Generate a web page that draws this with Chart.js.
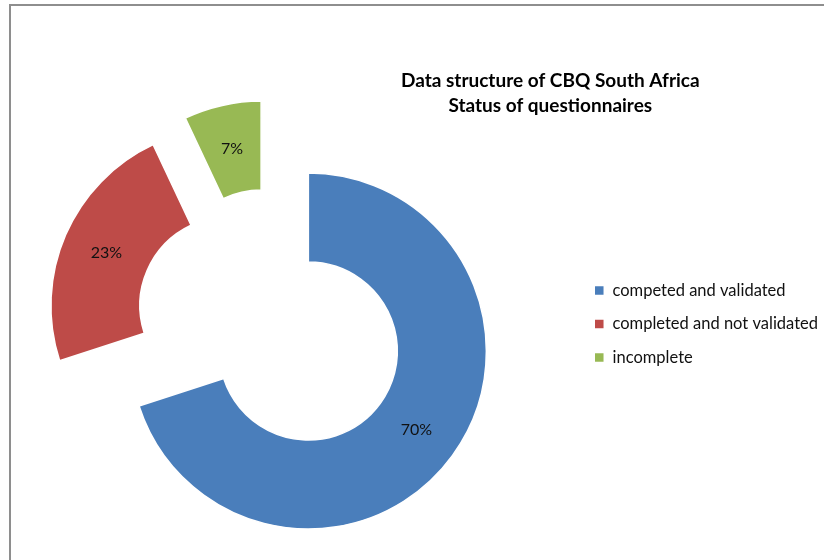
<!DOCTYPE html>
<html>
<head>
<meta charset="utf-8">
<script src="https://cdn.jsdelivr.net/npm/chart.js@4.4.1/dist/chart.umd.min.js"></script>
<style>
    html, body { margin: 0; padding: 0; background: #fff; overflow: hidden; }
    body { width: 824px; height: 560px; position: relative; }
    #frame {
        position: absolute; left: 9px; top: 4px; right: -10px; bottom: -10px;
        border-top: 2px solid #8e8e8e; border-left: 2px solid #8e8e8e;
    }
    /* le canvas déborde un peu des deux côtés pour placer le donut et la légende */
    #wrap { position: absolute; left: -35px; top: 0; width: 863px; height: 560px; }
</style>
</head>
<body>
<div id="frame"></div>
<div id="wrap"><canvas id="pie"></canvas></div>
<script>
// --- DONNÉES ---
const categories = ["competed and validated", "completed and not validated", "incomplete"];
const shares = [70, 23, 7];
const sliceColors = ["#4a7ebb", "#be4b48", "#98b954"];
const titleLines = ["Data structure of CBQ South Africa", "Status of questionnaires"];

const EXPLODE = 46;      // écartement des parts (comme "exploser" dans Excel)
const FONT = "Lato, 'Liberation Sans', sans-serif";

// --- PLUGIN : écarte chaque part le long de sa bissectrice ---
const explodePlugin = {
    id: 'explode',
    afterDatasetUpdate(chart, args) {
        args.meta.data.forEach(arc => {
            const mid = (arc.startAngle + arc.endAngle) / 2;
            arc.x += Math.cos(mid) * EXPLODE;
            arc.y += Math.sin(mid) * EXPLODE;
        });
    }
};

// --- PLUGIN : pourcentages au milieu des parts ---
const percentPlugin = {
    id: 'percentLabels',
    afterDatasetsDraw(chart) {
        const ctx = chart.ctx;
        const meta = chart.getDatasetMeta(0);
        ctx.save();
        ctx.font = "16px " + FONT;
        ctx.fillStyle = "#111";
        ctx.textAlign = "center";
        ctx.textBaseline = "middle";
        meta.data.forEach((arc, i) => {
            const p = arc.tooltipPosition();
            ctx.fillText(shares[i] + "%", p.x, p.y);
        });
        ctx.restore();
    }
};

// --- PLUGIN : titre sur deux lignes, au-dessus de la légende ---
const titlePlugin = {
    id: 'blockTitle',
    afterDraw(chart) {
        const ctx = chart.ctx;
        ctx.save();
        ctx.font = "bold 19px " + FONT;
        ctx.fillStyle = "#000";
        ctx.textAlign = "center";
        ctx.textBaseline = "middle";
        const x = chart.legend.left - 27;
        titleLines.forEach((line, i) => ctx.fillText(line, x, 81 + i * 25));
        ctx.restore();
    }
};

new Chart(document.getElementById("pie"), {
    type: "doughnut",
    data: {
        labels: categories,
        datasets: [{
            data: shares,
            backgroundColor: sliceColors,
            borderColor: "#ffffff",
            borderWidth: 1.5
        }]
    },
    plugins: [explodePlugin, percentPlugin, titlePlugin],
    options: {
        responsive: true,
        maintainAspectRatio: false,
        animation: false,
        radius: 178,
        cutout: "50%",
        layout: { padding: { top: 88, bottom: 0, left: 0, right: 0 } },
        plugins: {
            tooltip: { enabled: false },
            legend: {
                position: "right",
                labels: {
                    boxWidth: 10,
                    boxHeight: 10,
                    padding: 17,
                    color: "#111",
                    font: { size: 16.5, family: FONT }
                }
            }
        }
    }
});
</script>
</body>
</html>
